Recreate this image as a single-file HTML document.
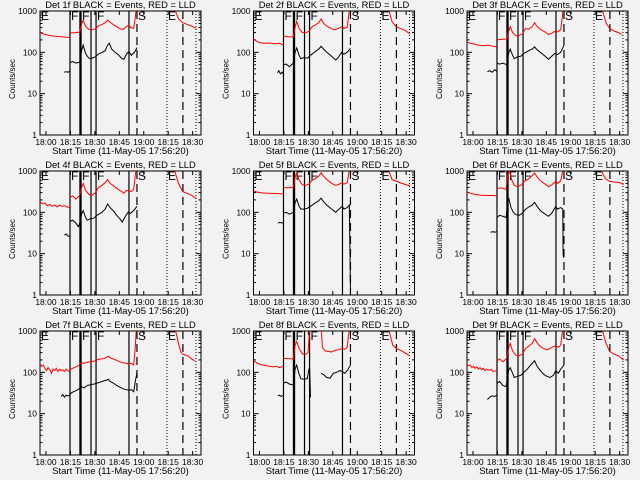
<!DOCTYPE html>
<html><head><meta charset="utf-8"><style>
html,body{margin:0;padding:0;background:#f2f2f2;}
svg{display:block;font-family:"Liberation Sans",sans-serif;}
</style></head><body>
<svg id="chart" width="640" height="480" viewBox="0 0 640 480"></svg>
<script>
const detectorLabels = ["1f","2f","3f","4f","5f","6f","7f","8f","9f"];
const xTickMinutes = [3.67,18.67,33.67,48.67,63.67,78.67,93.67];
const xTickLabels = ["18:00","18:15","18:30","18:45","19:00","18:15","18:30"];
const yTickValues = [1,10,100,1000];
const yTickLabels = ["1","10","100","1000"];
const solidEvents = [18.4,24.5,25.2,31.3,34.4,54.6];
const dashedEvents = [59.5,87.7];
const dottedEvents = [77.9,95.7];
const eventLetters = ["E","F","F","F","S","E"];
const eventLetterTimes = [0,18.4,25.2,34.4,59.5,77.9];

const red1 = [[[0,300],[2,280],[4,265],[6,255],[9,245],[12,240],[15,235],[18.3,228]],
 [[18.4,300],[21,295],[24.4,310],[25.5,480],[26.5,600],[28,420],[30,360],[32,350],[34,370],[36,440],[38,470],[40,520],[41.5,600],[43,540],[45,470],[47,420],[49,370],[51,360],[53,420],[54.5,460],[55.5,400],[57.5,380],[58.5,700],[59.2,1400]],
 [[82,1400],[83.5,900],[85,650],[87.5,520],[90,480],[93,430],[96,380]]];
const blk1 = [[[14.7,33],[16,34],[17.5,33],[18.3,36]],
 [[18.4,56],[20,60],[22,55],[24.4,58],[25.5,110],[26.5,150],[28,95],[29,80],[30.5,70],[32,72],[34,78],[36,92],[38,98],[40,110],[41.5,150],[42.5,165],[44,120],[46,100],[48,88],[50,72],[51.5,68],[53,90],[54.5,105],[56,85],[58,100],[59.5,130]]];
const red2 = [[[0,210],[2,185],[4,170],[7,165],[10,168],[13,160],[16,165],[18.3,150]],
 [[18.4,250],[21,235],[24.4,240],[25.5,400],[26.5,560],[28,380],[30,300],[32,300],[34,320],[36,420],[38,460],[40,520],[41.5,640],[43,500],[45,430],[48,370],[50,350],[52,380],[54.5,420],[55.5,380],[57.5,400],[58.5,800],[59.2,1400]],
 [[82,1400],[83.5,900],[85,550],[87.5,420],[90,380],[93,340],[96,280]]];
const blk2 = [[[14.7,32],[15.5,36],[16.5,30],[17.5,33],[18.3,30]],
 [[18.4,50],[20,52],[22,45],[24.4,55],[25.5,100],[26.5,128],[28,85],[29,70],[31,75],[33,72],[35,85],[38,105],[40,120],[41.5,140],[43,120],[45,100],[48,80],[50.5,65],[52,75],[54,100],[55.5,90],[57.5,100],[59.5,125]]];
const red3 = [[[0,180],[2,165],[4,160],[7,150],[10,145],[13,150],[16,140],[18.3,135]],
 [[18.4,200],[21,205],[24.4,210],[25.5,320],[26.5,420],[28,300],[30,250],[32,255],[34,280],[36,380],[38,360],[40,420],[41.5,520],[43,420],[45,360],[48,310],[50,270],[52,290],[54.5,330],[55.5,310],[57.5,350],[58.5,700],[59.2,1400]],
 [[82,1400],[83.5,900],[85.5,500],[87.5,380],[90,330],[93,300],[95,270]]];
const blk3 = [[[12.5,34],[14,36],[15.5,33],[17,38],[18.3,35]],
 [[18.4,55],[20,52],[22,55],[24.4,50],[25.5,95],[26.5,120],[28,85],[29,70],[31,78],[33,80],[35,95],[38,110],[40,120],[41.5,135],[43,115],[45,100],[48,80],[50,68],[52,80],[54,95],[55.5,88],[57.5,100],[59.5,150]]];
const red4 = [[[0,180],[1.5,160],[3,170],[4.5,145],[6,155],[7.5,140],[9,150],[10.5,135],[12,150],[13.5,140],[15,145],[16.5,135],[18.3,130]],
 [[18.4,230],[20,250],[22,210],[24.4,260],[25.5,400],[26.5,500],[28,340],[30,270],[32,260],[34,300],[36,400],[38,450],[40,520],[41.5,620],[43,500],[45,440],[48,360],[50,320],[51.5,290],[53,340],[54.5,330],[56,320],[57.5,360],[58.5,800],[59.2,1400]],
 [[81,1400],[83,900],[85,500],[87.5,320],[90,290],[93,260],[95.5,220]]];
const blk4 = [[[15,28],[16,30],[17,27],[18.3,26]],
 [[18.4,60],[20,65],[22,55],[23.5,45],[24.4,55],[25.5,90],[26.5,110],[28,75],[29,65],[31,70],[33,72],[35,85],[38,100],[40,120],[41.5,160],[43,130],[45,110],[47,85],[49,70],[50.5,58],[52,75],[54,100],[55.5,95],[57.5,110],[59.5,140]]];
const red5 = [[[0,330],[2,310],[5,295],[9,290],[13,285],[16,282],[18.3,280]],
 [[18.4,400],[21,390],[24.4,400],[25.5,700],[26.5,900],[28,600],[30,460],[32,450],[34,480],[36,600],[38,650],[40,750],[41.5,900],[43,750],[45,620],[48,500],[50.5,450],[52,470],[54.5,520],[55.5,480],[57.5,520],[58.5,900],[59.2,1400]],
 [[82,1400],[83.5,900],[85,620],[88,560],[91,500],[94,460],[96,430]]];
const blk5 = [[[15,55],[16,57],[17,56],[18.3,55]],
 [[18.4,95],[20,100],[22,90],[24.4,100],[25.5,170],[26.5,210],[28,140],[29,120],[31,120],[33,125],[35,140],[38,170],[40,190],[41.5,220],[43,180],[45,150],[48,120],[50.5,100],[52,115],[54.5,140],[55.5,120],[57.5,130],[58.8,150],[59.2,10],[59.5,1]]];
const red6 = [[[0,310],[2,290],[5,270],[9,260],[13,255],[16,255],[18.3,250]],
 [[18.4,380],[21,390],[24,360],[25,800],[26,1000],[27.5,600],[29,450],[31,420],[33,450],[35,550],[38,650],[40,780],[41.5,900],[43,720],[45,580],[48,480],[50,420],[52,460],[54.5,560],[55.5,500],[57.5,580],[58.5,900],[59.2,1400]],
 [[81,1400],[83,900],[85,650],[87.5,560],[91,540],[94,520],[96,470]]];
const blk6 = [[[14.5,33],[16,34],[17,33],[18.3,34]],
 [[18.4,75],[20,85],[22,80],[24,75],[25,180],[25.8,210],[27,130],[28.5,100],[30,88],[32,85],[34,95],[36,120],[38,135],[40,150],[41.5,175],[43,140],[45,110],[48,90],[50,80],[52,95],[54.5,140],[55.5,120],[57.5,130],[58.8,120],[59,10],[59.2,8]]];
const red7 = [[[0,160],[1,140],[2,150],[3,125],[4,110],[5,130],[6,115],[7,95],[8,120],[9,110],[10,125],[11,105],[12,120],[13,110],[14,115],[15,105],[16,120],[17,110],[18.3,105]],
 [[18.4,115],[20,125],[22,135],[24,150],[25.5,170],[27,165],[29,175],[31,180],[33,185],[35,200],[37,210],[39,215],[41,230],[42,245],[43,225],[45,210],[47,195],[49,180],[51,170],[53,165],[54.5,160],[56,165],[57.5,150],[58.5,400],[59.2,1400]],
 [[82,1400],[83.5,900],[85,500],[86.5,300],[88,270],[91,250],[93,210],[95,190]]];
const blk7 = [[[13,26],[14,29],[15,25],[16,28],[17,27],[18.3,28]],
 [[18.4,30],[20,33],[22,36],[24,40],[25.5,45],[27,42],[29,48],[31,50],[33,52],[35,55],[37,58],[39,62],[41,65],[42,68],[43,60],[45,55],[47,48],[49,44],[51,40],[53,38],[54.5,37],[56,38],[57.5,34],[58.5,60],[59.5,100]]];
const red8 = [[[0,190],[2,170],[4,155],[6,150],[8,145],[10,140],[12,135],[14,140],[16,130],[18.3,140]],
 [[18.4,220],[21,215],[24.4,210],[25.5,450],[26.5,560],[28,380],[30,280],[32,270],[33.5,300],[34,600],[34.4,1400]],
 [[41.5,1400],[42.3,400],[44,330],[46,320],[48,310],[50,340],[52,350],[54.5,380],[56,360],[57.5,400],[58.5,900],[59.2,1400]],
 [[82,1400],[83.5,900],[85.5,450],[88,370],[91,330],[94,280],[96,250]]];
const blk8 = [[[15,27],[16,28],[17,26],[18.3,28]],
 [[18.4,55],[20,58],[22,52],[24.4,50],[25.5,120],[26.5,150],[28,90],[29,70],[31,68],[33,70],[34,120],[34.4,130],[35,25]],
 [[41.5,95],[43,88],[45,75],[47,72],[49,95],[51,100],[53,110],[54.5,105],[56,95],[57.5,110],[59.5,150]]];
const red9 = [[[0,160],[1,145],[2,150],[3,130],[4,140],[5,125],[6,135],[7,120],[8,130],[9,115],[10,125],[11,110],[12,120],[13,115],[14,112],[15,118],[16,105],[18.3,110]],
 [[18.4,190],[20,210],[22,180],[24.4,220],[25.5,380],[26.5,500],[28,330],[30,260],[32,250],[34,280],[36,380],[38,430],[40,500],[41.5,650],[43,520],[45,420],[47,380],[49,350],[51,380],[53,420],[54.5,440],[56,400],[57.5,450],[58.5,900],[59.2,1400]],
 [[82,1400],[83.5,900],[85,550],[87.5,320],[90,280],[93,250],[96,200]]];
const blk9 = [[[12.5,22],[14,25],[15.5,27],[17,26],[18.3,28]],
 [[18.4,55],[20,60],[22,48],[24,45],[25.5,110],[26.5,130],[28,95],[29,75],[31,80],[33,85],[35,100],[37,120],[39,150],[41.5,190],[43,140],[45,110],[47,90],[49,80],[51,75],[53,85],[54.5,110],[56,95],[57.5,120],[59.5,150]]];
const redSeries = [red1,red2,red3,red4,red5,red6,red7,red8,red9];
const blkSeries = [blk1,blk2,blk3,blk4,blk5,blk6,blk7,blk8,blk9];

const NS="http://www.w3.org/2000/svg";
const svg=document.getElementById('chart');
const PW=161, PH=124, TMAX=98.8;
function mk(tag,attrs,parent){const e=document.createElementNS(NS,tag);for(const k in attrs)e.setAttribute(k,attrs[k]);(parent||svg).appendChild(e);return e;}

for(let i=0;i<9;i++){
  const col=i%3,row=Math.floor(i/3);
  const ox=40+col*213.5, oy=11+row*160;
  const xs=t=>ox+t/TMAX*PW;
  const ys=v=>oy+PH-(PH/3)*Math.log10(Math.max(v,0.5));
  const g=mk('g',{});
  
  
  const cp=mk('clipPath',{id:'cp'+i},g);
  mk('rect',{x:ox,y:oy,width:PW,height:PH},cp);
  const title=mk('text',{x:ox+PW/2,y:oy-3,'font-size':'9.4','text-anchor':'middle',fill:'#000'},g);
  title.textContent='Det '+detectorLabels[i]+' BLACK = Events, RED = LLD';
  
  
  const fr=mk('rect',{x:ox,y:oy,width:PW,height:PH,fill:'none',stroke:'#000','stroke-width':1},g);
  
  
  for(let d=0;d<3;d++){for(let m=1;m<10;m++){const v=Math.pow(10,d)*m;const y=ys(v);const L=(m===1)?5:2.5;
    mk('line',{x1:ox,x2:ox+L,y1:y,y2:y,stroke:'#000','stroke-width':1},g);
    mk('line',{x1:ox+PW-L,x2:ox+PW,y1:y,y2:y,stroke:'#000','stroke-width':1},g);}}
  yTickValues.forEach((v,k)=>{const t=mk('text',{x:ox-3,y:ys(v)+3,'font-size':'8.5','text-anchor':'end'},g);t.textContent=yTickLabels[k];
    
    });
  const yl=mk('text',{x:0,y:0,'font-size':'8','text-anchor':'middle',transform:'translate('+(ox-25)+','+(oy+PH/2+6)+') rotate(-90)'},g);
  yl.textContent='Counts/sec';
  
  
  xTickMinutes.forEach((tm,k)=>{const x=xs(tm);
    mk('line',{x1:x,x2:x,y1:oy+PH,y2:oy+PH-4,stroke:'#000'},g);
    mk('line',{x1:x,x2:x,y1:oy,y2:oy+4,stroke:'#000'},g);
    const t=mk('text',{x:x,y:oy+PH+10,'font-size':'8.5','text-anchor':'middle'},g);t.textContent=xTickLabels[k];
    
    });
  const xl=mk('text',{x:ox+PW/2,y:oy+PH+19,'font-size':'9.5','text-anchor':'middle'},g);
  xl.textContent='Start Time (11-May-05 17:56:20)';
  
  
  solidEvents.forEach(tm=>{const l=mk('line',{x1:xs(tm),x2:xs(tm),y1:oy,y2:oy+PH,stroke:'#000','stroke-width':1.2},g);
    
    });
  dashedEvents.forEach(tm=>{const l=mk('line',{x1:xs(tm),x2:xs(tm),y1:oy,y2:oy+PH,stroke:'#000','stroke-width':1.2,'stroke-dasharray':'8,5'},g);
    
    });
  dottedEvents.forEach(tm=>{const l=mk('line',{x1:xs(tm),x2:xs(tm),y1:oy,y2:oy+PH,stroke:'#000','stroke-width':1,'stroke-dasharray':'1,2'},g);
    
    });
  eventLetters.forEach((ch,k)=>{const t=mk('text',{x:xs(eventLetterTimes[k])+1,y:oy+9,'font-size':'12',fill:'#000'},g);t.textContent=ch;
    
    });
  const drawSeries=(segs,color,name)=>{segs.forEach(seg=>{
    const p=mk('polyline',{points:seg.map(d=>xs(d[0]).toFixed(1)+','+ys(d[1]).toFixed(1)).join(' '),fill:'none',stroke:color,'stroke-width':1,'clip-path':'url(#cp'+i+')'},g);
    
    });};
  drawSeries(redSeries[i],'#ff0000','lld-red-series');
  drawSeries(blkSeries[i],'#000000','events-black-series');
}
</script>
</body></html>
